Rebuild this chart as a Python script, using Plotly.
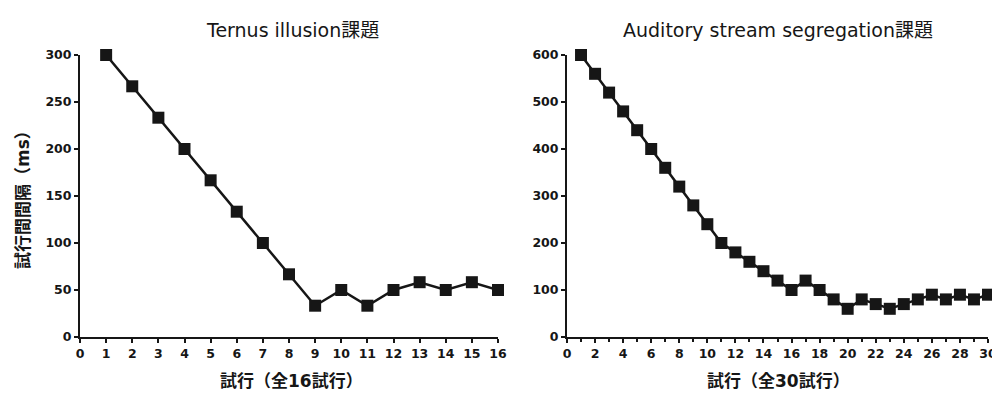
import plotly.graph_objects as go

trials_a = list(range(1, 17))
values_a = [300, 266.7, 233.3, 200, 166.7, 133.3, 100, 66.7, 33.3, 50, 33.3, 50, 58.3, 50, 58.3, 50]

trials_b = list(range(1, 31))
values_b = [600, 560, 520, 480, 440, 400, 360, 320, 280, 240, 200, 180, 160, 140, 120,
            100, 120, 100, 80, 60, 80, 70, 60, 70, 80, 90, 80, 90, 80, 90]

title_a = "Ternus illusion課題"
title_b = "Auditory stream segregation課題"
xtitle_a = "試行（全16試行）"
xtitle_b = "試行（全30試行）"
ytitle = "試行間間隔（ms）"

FONT = "DejaVu Sans, Noto Sans CJK JP"
INK = "#161616"

W, H = 1000, 397
OFF = 8  # page body offset of the plot div


def px(x):
    return (x - OFF) / W


def py(y):
    return 1 - (y - OFF) / H


fig = go.Figure()
fig.add_trace(go.Scatter(x=trials_a, y=values_a, mode="lines+markers",
                         line=dict(color=INK, width=2.5),
                         marker=dict(symbol="square", size=12, color=INK),
                         cliponaxis=False, xaxis="x", yaxis="y", showlegend=False))
fig.add_trace(go.Scatter(x=trials_b, y=values_b, mode="lines+markers",
                         line=dict(color=INK, width=2.5),
                         marker=dict(symbol="square", size=12, color=INK),
                         cliponaxis=False, xaxis="x2", yaxis="y2", showlegend=False))

axis_common = dict(showgrid=False, zeroline=False, showline=True, linecolor=INK, linewidth=2,
                   ticks="outside", ticklen=4, tickcolor=INK, tickwidth=1.5, automargin=False,
                   tickfont=dict(family=FONT, size=12.5, color=INK, weight="bold"))

fig.update_layout(
    width=W, height=H, autosize=False,
    margin=dict(l=0, r=0, t=0, b=0, pad=0),
    paper_bgcolor="white", plot_bgcolor="white",
    xaxis=dict(domain=[px(80), px(498)], range=[0, 16], tickmode="linear", tick0=0, dtick=1,
               anchor="y", **axis_common),
    yaxis=dict(domain=[py(337), py(55)], range=[0, 300], tickmode="linear", tick0=0, dtick=50,
               anchor="x", **axis_common),
    xaxis2=dict(domain=[px(567), px(988)], range=[0, 30], tickmode="linear", tick0=0, dtick=2,
                anchor="y2", minor=dict(ticks="outside", ticklen=3, dtick=1, tickcolor=INK),
                **axis_common),
    yaxis2=dict(domain=[py(337), py(55)], range=[0, 600], tickmode="linear", tick0=0, dtick=100,
                anchor="x2", **axis_common),
    annotations=[
        dict(text=title_a, x=px(292), y=py(30), xref="paper", yref="paper",
             xanchor="center", yanchor="middle",
             showarrow=False, font=dict(family=FONT, size=19, color=INK)),
        dict(text=title_b, x=px(778), y=py(30), xref="paper", yref="paper",
             xanchor="center", yanchor="middle",
             showarrow=False, font=dict(family=FONT, size=19, color=INK)),
        dict(text=xtitle_a, x=px(291), y=py(381), xref="paper", yref="paper",
             xanchor="center", yanchor="middle",
             showarrow=False, font=dict(family=FONT, size=17, color=INK, weight="bold")),
        dict(text=xtitle_b, x=px(778), y=py(381), xref="paper", yref="paper",
             xanchor="center", yanchor="middle",
             showarrow=False, font=dict(family=FONT, size=17, color=INK, weight="bold")),
        dict(text=ytitle, x=px(23), y=py(196), xref="paper", yref="paper",
             xanchor="center", yanchor="middle",
             showarrow=False, textangle=-90, font=dict(family=FONT, size=17, color=INK, weight="bold")),
    ],
)

fig.write_html("out.html")
